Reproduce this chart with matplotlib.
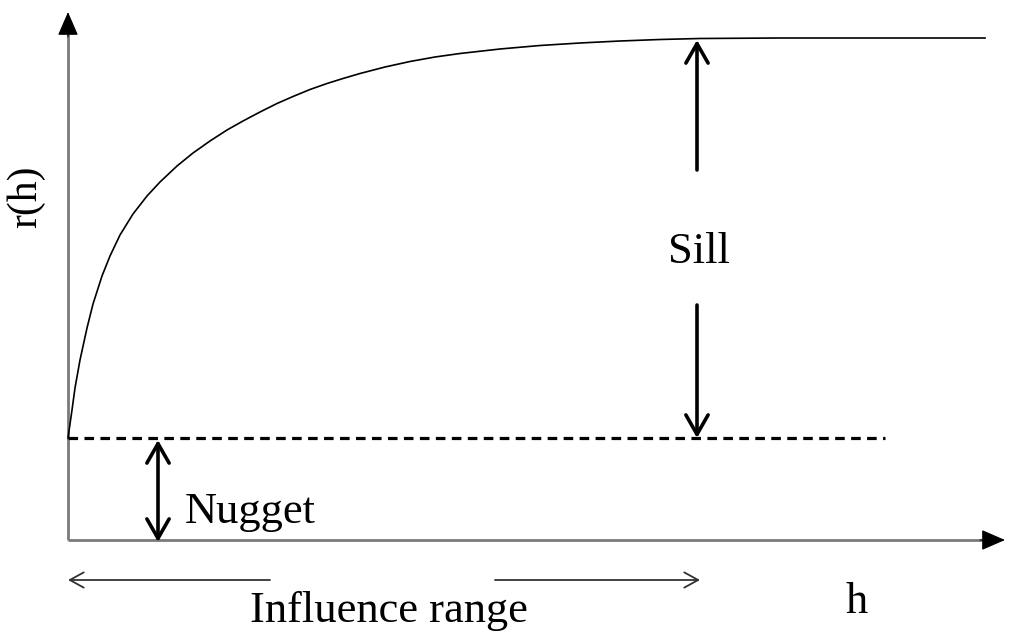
import matplotlib
matplotlib.use("Agg")
import matplotlib.pyplot as plt

# ---- data (h, r(h)) ----
curve_h = [0.00, 0.04, 0.07, 0.12, 0.19, 0.25, 0.34, 0.42, 0.52, 0.65, 0.79,
           0.92, 1.09, 1.25, 1.42, 1.59, 1.75, 1.92, 2.09, 2.25, 2.42, 2.59,
           2.75, 2.92, 3.17, 3.42, 3.67, 3.92, 4.32, 4.72, 5.12, 5.52, 5.92,
           6.32, 7.12, 7.92, 9.17]
curve_r = [1.02, 1.30, 1.52, 1.80, 2.12, 2.36, 2.64, 2.84, 3.05, 3.26, 3.44,
           3.58, 3.74, 3.87, 3.99, 4.10, 4.19, 4.28, 4.365, 4.435, 4.505, 4.565,
           4.615, 4.665, 4.73, 4.785, 4.83, 4.865, 4.91, 4.945, 4.97, 4.99, 5.005,
           5.015, 5.02, 5.02, 5.02]
nugget = 1.02
sill = 5.02
nugget_line_end = 8.17
range_h = 6.29
nugget_arrow_h = 0.90
x_axis_end = 9.37
y_axis_end = 5.28

labels = {"sill": "Sill", "nugget": "Nugget", "range": "Influence range",
          "x": "h", "y": "r(h)"}

fig = plt.figure(figsize=(10.24, 6.38), dpi=100)
ax = fig.add_axes([0, 0, 1, 1])
ax.set_xlim(-0.68, 9.56)
ax.set_ylim(-0.98, 5.40)
ax.axis("off")

font = dict(family=["Liberation Serif", "DejaVu Serif"], color="black")
axis_gray = "#7a7a7a"

# axes lines with filled arrowheads
ax.plot([0, 0], [0, y_axis_end - 0.15], color=axis_gray, lw=2.0, solid_capstyle="butt")
ax.plot([0, x_axis_end - 0.15], [0, 0], color=axis_gray, lw=2.0, solid_capstyle="butt")
head = dict(arrowstyle="-|>,head_length=15,head_width=6.5", color="black",
            lw=0.8, shrinkA=0, shrinkB=0, mutation_scale=1)
ax.annotate("", xy=(0, y_axis_end), xytext=(0, y_axis_end - 0.25), arrowprops=head)
ax.annotate("", xy=(x_axis_end, 0), xytext=(x_axis_end - 0.25, 0), arrowprops=head)

# variogram curve
ax.plot(curve_h, curve_r, color="black", lw=1.2, solid_joinstyle="round")

# nugget dashed line
ax.plot([0, nugget_line_end], [nugget, nugget], color="black", lw=2.3,
        linestyle=(0, (3.0, 2.0)))

# sill arrows
open_head = dict(arrowstyle="->,head_length=14,head_width=8", color="black",
                 lw=2.6, shrinkA=0, shrinkB=0, mutation_scale=1)
ax.annotate("", xy=(range_h, sill - 0.02), xytext=(range_h, 3.70), arrowprops=open_head)
ax.annotate("", xy=(range_h, nugget), xytext=(range_h, 2.35), arrowprops=open_head)
ax.text(range_h + 0.02, 2.77, labels["sill"], fontsize=32, ha="center", va="baseline", **font)

# nugget arrow
both_head = dict(arrowstyle="<->,head_length=14,head_width=8", color="black",
                 lw=2.6, shrinkA=0, shrinkB=0, mutation_scale=1)
ax.annotate("", xy=(nugget_arrow_h, -0.02), xytext=(nugget_arrow_h, nugget - 0.02), arrowprops=both_head)
ax.text(1.17, 0.17, labels["nugget"], fontsize=32, ha="left", va="baseline", **font)

# influence range arrows
thin_head = dict(arrowstyle="->,head_length=10,head_width=5.5", color="#333333",
                 lw=1.3, shrinkA=0, shrinkB=0, mutation_scale=1)
ax.annotate("", xy=(0, -0.40), xytext=(2.02, -0.40), arrowprops=thin_head)
ax.annotate("", xy=(range_h + 0.03, -0.40), xytext=(4.27, -0.40), arrowprops=thin_head)
ax.text(3.21, -0.82, labels["range"], fontsize=32, ha="center", va="baseline", **font)

# axis labels
ax.text(7.89, -0.73, labels["x"], fontsize=32, ha="center", va="baseline", **font)
ax.text(-0.42, 3.43, labels["y"], fontsize=30, rotation=90, ha="center", va="center", **font)

fig.savefig("out.png", dpi=100, facecolor="white")
